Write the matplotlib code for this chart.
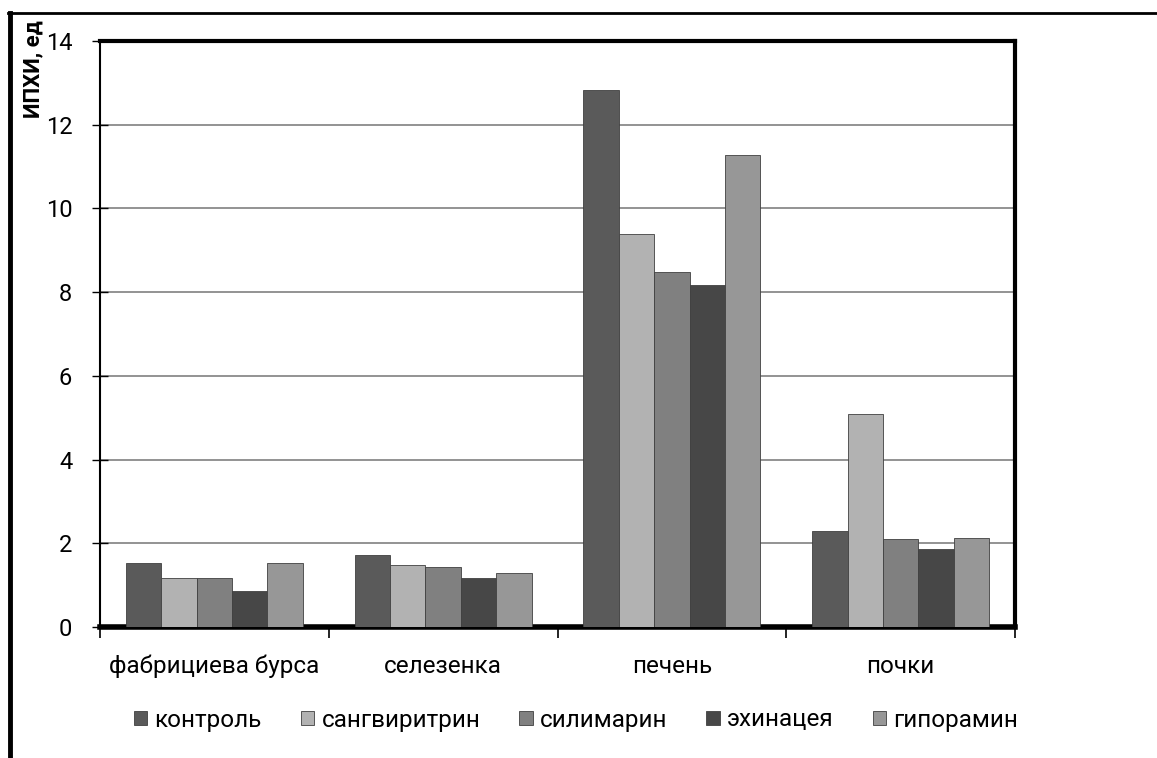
import matplotlib
matplotlib.use("Agg")
import matplotlib.pyplot as plt
import numpy as np
from matplotlib.lines import Line2D

plt.rcParams["font.family"] = ["Roboto", "DejaVu Sans"]

categories = ["фабрициева бурса", "селезенка", "печень", "почки"]
series = ["контроль", "сангвиритрин", "силимарин", "эхинацея", "гипорамин"]
control = [1.54, 1.72, 12.83, 2.30]
sangviritrin = [1.18, 1.49, 9.39, 5.10]
silimarin = [1.16, 1.44, 8.47, 2.11]
echinacea = [0.85, 1.17, 8.18, 1.86]
hyporamin = [1.53, 1.28, 11.28, 2.12]
colors = ["#5a5a5a", "#b2b2b2", "#808080", "#474747", "#979797"]

values = [control, sangviritrin, silimarin, echinacea, hyporamin]

fig = plt.figure(figsize=(11.57, 7.58), dpi=100)
ax = fig.add_axes([100 / 1157, 1 - 627 / 758, 915 / 1157, 586 / 758])

x = np.arange(len(categories))
n = len(series)
bw = 0.773 / n
for i, (name, vals) in enumerate(zip(series, values)):
    offs = (i - (n - 1) / 2) * bw
    ax.bar(x + offs, vals, width=bw, color=colors[i], edgecolor="#404040",
           linewidth=0.6, label=name, zorder=3)

ax.set_xlim(-0.5, len(categories) - 0.5)
ax.set_ylim(0, 14)
ax.set_yticks(np.arange(0, 15, 2))
ax.yaxis.grid(True, color="#808080", linewidth=1.2, zorder=0)
ax.set_axisbelow(True)

ax.set_xticks(x)
ax.set_xticklabels(categories, fontsize=17.5)
ax.tick_params(axis="x", length=0, pad=20)
ax.set_xticks(np.arange(-0.5, len(categories)), minor=True)
ax.tick_params(axis="x", which="minor", direction="out", length=8, width=1.2)
ax.tick_params(axis="y", direction="inout", length=12, width=1, labelsize=17, pad=14)

for s in ["top", "right"]:
    ax.spines[s].set_linewidth(3)
ax.spines["bottom"].set_linewidth(4)
ax.spines["left"].set_linewidth(1.5)

fig.text(33 / 1157, 1 - 20 / 758, "ИПХИ, ед", rotation=90, ha="center", va="top",
         fontsize=16, fontweight="bold")

fig.legend(loc="center", bbox_to_anchor=(576 / 1157, 1 - 720 / 758), ncol=5,
           frameon=False, fontsize=17.5, handlelength=0.55, handleheight=0.55,
           handletextpad=0.3, columnspacing=1.6)

# outer frame of the picture
fig.add_artist(Line2D([8 / 1157, 1], [1 - 13 / 758, 1 - 13 / 758], color="black", linewidth=2))
fig.add_artist(Line2D([10 / 1157, 10 / 1157], [0, 1 - 13 / 758], color="black", linewidth=3.5))

fig.savefig("out.png", dpi=100)
